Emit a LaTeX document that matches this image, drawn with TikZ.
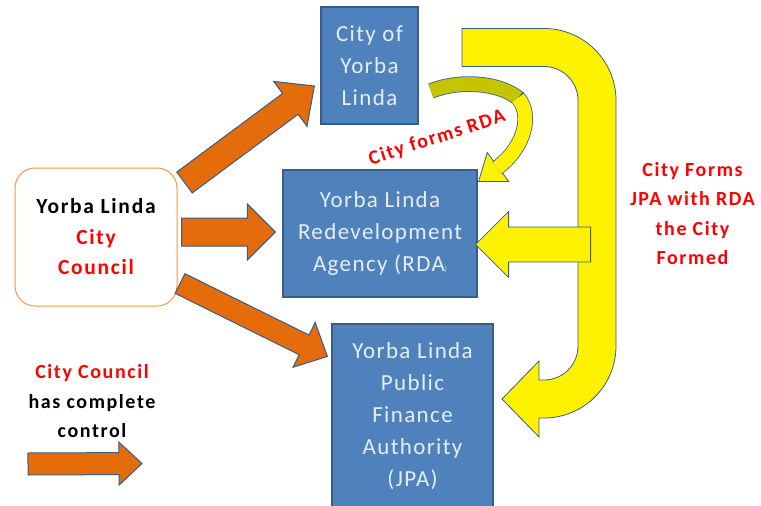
\documentclass[tikz,border=0pt]{standalone}
\usepackage{fontspec}
\setmainfont{Carlito}
\newfontfamily\boxfont{Carlito}[LetterSpace=6]
\newfontfamily\labelfont{Carlito}[LetterSpace=8]
\usetikzlibrary{calc}

\definecolor{boxblue}{HTML}{4F81BD}
\definecolor{boxline}{HTML}{385D8A}
\definecolor{boxtext}{HTML}{E8EEF6}
\definecolor{arroworange}{HTML}{E46C0A}
\definecolor{councilline}{HTML}{F79646}
\definecolor{darkyellow}{HTML}{C4C400}

\begin{document}
\begin{tikzpicture}[x=1pt, y=-1pt,
	unit/.style={draw=boxline, line width=1.2pt, fill=boxblue, text=boxtext, align=center, inner sep=0pt, font=\boxfont\fontsize{23}{32}\selectfont},
	orangearrow/.style={draw=boxline, line width=1pt, fill=arroworange},
	yellowarrow/.style={draw=boxline, line width=0.8pt, fill=yellow},
	boldtext/.style={align=center, font=\labelfont\bfseries\fontsize{20}{29.5}\selectfont}]

	\useasboundingbox (0,0) rectangle (761,506);

	% the bodies
	\node[unit, minimum width=97pt, minimum height=117pt] (city) at (369.5,65.5) {City of\\Yorba\\Linda};
	\node[unit, minimum width=194pt, minimum height=127pt] (rda) at (380,233.5) {Yorba Linda\\Redevelopment\\Agency (RDA{\scriptsize )}};
	\node[unit, minimum width=161pt, minimum height=184pt] (jpa) at (412.5,416) {Yorba Linda\\Public\\Finance\\Authority\\(JPA)};
	\node[boldtext, font=\labelfont\bfseries\fontsize{21.5}{30.5}\selectfont, draw=councilline, line width=1pt, rounded corners=20pt, fill=white, minimum width=162pt, minimum height=138pt] (council) at (96,237) {Yorba Linda\\\textcolor{red}{City}\\\textcolor{red}{Council}};

	% labels
	\node[boldtext] (key) at (92,401.5) {\textcolor{red}{City Council}\\has complete\\control};
	\node[boldtext, text=red] (formsjpa) at (692.5,213.5) {City Forms\\JPA with RDA\\the City\\Formed};
	\node[boldtext, text=red, rotate=18] (formsrda) at (437,138) {City forms RDA};

	% big yellow hook
	\draw[yellowarrow] (462,28.5) -- (544,28.5) arc[start angle=-90, end angle=0, radius=72] -- (616,346) arc[start angle=0, end angle=90, radius=72] -- (539,418) -- (539,437) -- (502,399) -- (539,361) -- (539,380) -- (544,380) arc[start angle=90, end angle=0, radius=34] -- (578,100.5) arc[start angle=0, end angle=-90, radius=34] -- (462,66.5) -- cycle;

	% small curved yellow arrow
	\coordinate (rdatip) at ([shift={(1,12)}]rda.north east);
	\coordinate (rdahead) at (498,167);
	\draw[yellowarrow] ($(rdahead)!18pt!90:(rdatip)$) -- (rdatip) -- ($(rdahead)!18pt!-90:(rdatip)$) -- cycle;
	\draw[boxline, line width=15.6pt] (431,91) .. controls (458,80) and (498,82) .. (518,98) .. controls (532,114) and (526,146) .. (497,168);
	\draw[darkyellow, line width=14pt] (431,91) .. controls (458,80) and (498,82) .. (518,98);
	\draw[yellow, line width=14pt] (518,98) .. controls (532,114) and (526,146) .. (497,168);

	% block arrows
	\coordinate (a1s) at ([shift={(7,15)}]council.north east);
	\coordinate (a1e) at ([shift={(-6,20.5)}]city.west);
	\coordinate (a2s) at ([shift={(4,-5)}]council.east);
	\coordinate (a2e) at ([shift={(-7,-1.5)}]rda.west);
	\coordinate (a3s) at ([shift={(2.5,-23)}]council.south east);
	\coordinate (a3e) at ([shift={(-4,33)}]jpa.north west);
	\coordinate (ks) at (28,464);
	\coordinate (ke) at (142,463.5);
	\coordinate (y1s) at ([shift={(113,11)}]rda.east);
	\coordinate (y1e) at ([shift={(-2,11)}]rda.east);

	\foreach \from/\to/\w/\W/\h/\look in {
		a1s/a1e/13pt/28pt/30pt/orangearrow,
		a2s/a2e/14pt/28pt/28pt/orangearrow,
		a3s/a3e/11pt/25pt/26pt/orangearrow,
		ks/ke/11pt/21.5pt/23pt/orangearrow,
		y1s/y1e/17.5pt/33pt/33pt/yellowarrow}
	{
		\coordinate (base) at ($(\to)!\h!(\from)$);
		\draw[\look] ($(\from)!\w!90:(\to)$) -- ($(base)!\w!90:(\to)$) -- ($(base)!\W!90:(\to)$) -- (\to) -- ($(base)!\W!-90:(\to)$) -- ($(base)!\w!-90:(\to)$) -- ($(\from)!\w!-90:(\to)$) -- cycle;
	}
\end{tikzpicture}
\end{document}
